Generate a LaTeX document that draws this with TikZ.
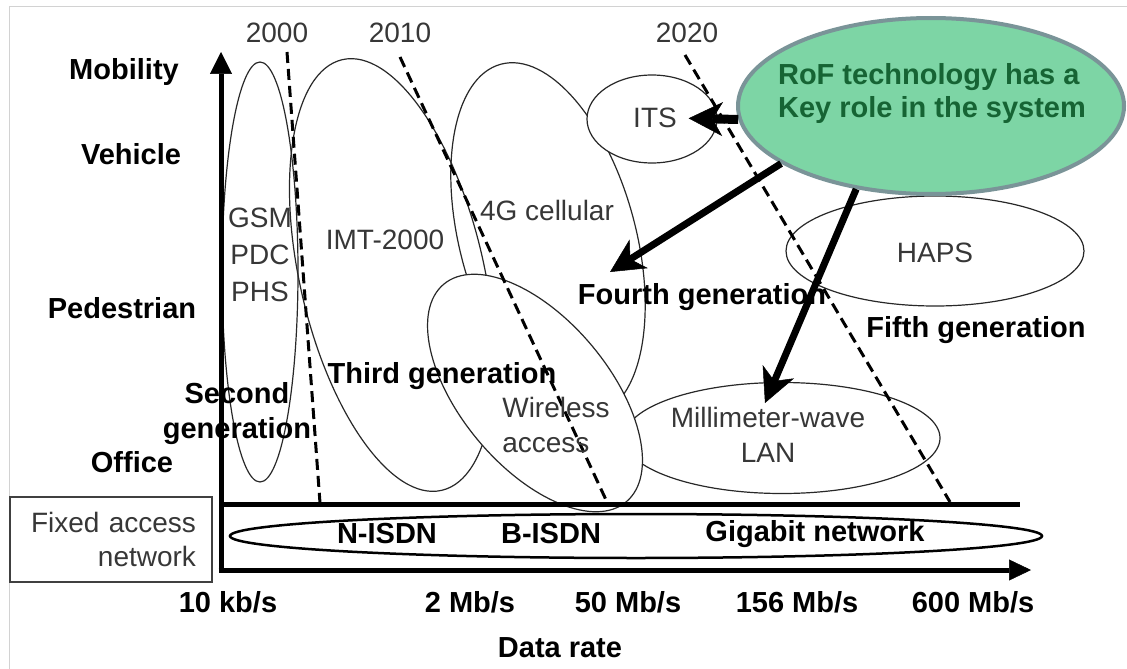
\documentclass[tikz,border=0pt]{standalone}
\usepackage{fontspec}
\setmainfont{Liberation Sans}
\usetikzlibrary{arrows.meta,shapes.geometric}
\definecolor{txtgray}{RGB}{55,55,55}
\definecolor{ellline}{RGB}{40,40,40}
\definecolor{rofFill}{RGB}{125,213,165}
\definecolor{rofLine}{RGB}{122,148,152}
\definecolor{rofText}{RGB}{22,100,52}
\definecolor{frameGray}{RGB}{210,210,210}
\begin{document}
\begin{tikzpicture}[x=1pt,y=-1pt,
  bold/.style={font=\fontsize{29}{35}\selectfont\bfseries, inner sep=0pt, align=center},
  thin/.style={font=\fontsize{28}{35}\selectfont, text=txtgray, inner sep=0pt, align=center},
  oval/.style={ellipse, draw=ellline, line width=1.2pt, inner sep=0pt},
  yearline/.style={line width=3pt, dash pattern=on 11pt off 6pt},
  axisline/.style={line width=5pt},
  bigarrow/.style={line width=7pt, -{Stealth[length=34pt,width=34pt,inset=10pt,line width=0.5pt]}}
]
\useasboundingbox (0,0) rectangle (1127,669);
\fill[white] (0,0) rectangle (1127,669);
\draw[frameGray, line width=1pt] (9,669) -- (9,7) -- (1127,7);

% technology ellipses
\node[oval, minimum width=76pt, minimum height=420pt] (gsm) at (260,272) {};
\node[oval, minimum width=184pt, minimum height=442pt, rotate=13] (imt) at (392,275) {};
\node[oval, minimum width=176pt, minimum height=364pt, rotate=15] (cell) at (548,240) {};
\node[oval, fill=white, minimum width=130pt, minimum height=88pt] (its) at (652,119) {};
\node[oval, fill=white, minimum width=298pt, minimum height=110pt] (haps) at (935,251) {};
\node[oval, minimum width=316pt, minimum height=111pt] (mmw) at (782,438) {};
\node[oval, fill=white, minimum width=148pt, minimum height=284pt, rotate=40] (wla) at (535,393) {};

% fixed access network
\node[ellipse, draw, line width=2.5pt, minimum width=812pt, minimum height=44pt, inner sep=0pt] (fixedell) at (636,536) {};
\node[draw=black!75, line width=1.5pt, text width=170pt, inner xsep=16pt, inner ysep=0pt, align=right,
      minimum height=85pt, font=\fontsize{28}{34}\selectfont, text=txtgray] (fixbox) at (111,539.5) {Fixed access\\network};

% axes
\coordinate (ybot) at (221,572.5);
\coordinate (ytip) at (221,52);
\coordinate (xbot) at (218.5,570);
\coordinate (xtip) at (1031,570);
\coordinate (hl) at (221,504);
\coordinate (hr) at (1020,504);
\draw[axisline, -{Triangle[length=22pt,width=22pt,line width=0.5pt]}] (ybot) -- (ytip);
\draw[axisline, -{Triangle[length=22pt,width=21pt,line width=0.5pt]}] (xbot) -- (xtip);
\draw[axisline] (hl) -- (hr);

% year lines
\coordinate (a0) at (287,52);  \coordinate (b0) at (320,503);
\coordinate (a1) at (400,57);  \coordinate (b1) at (607,502);
\coordinate (a2) at (685,55);  \coordinate (b2) at (950,502);
\draw[yearline] (a0) -- (b0);
\draw[yearline] (a1) -- (b1);
\draw[yearline] (a2) -- (b2);
\node[thin] (y2000) at (277,33) {2000};
\node[thin] (y2010) at (400,33) {2010};
\node[thin] (y2020) at (687,33) {2020};

% RoF callout
\node[ellipse, draw=rofLine, fill=rofFill, line width=4pt, minimum width=386pt, minimum height=176pt, inner sep=0pt] (rof) at (931,106) {};
\node[font=\fontsize{29}{33}\selectfont\bfseries, text=rofText, align=left, inner sep=0pt] (roftext) at (932,94) {RoF technology has a\\Key role in the system};

\coordinate (t4) at (610,272);
\coordinate (tmm) at (765,403);
\draw[bigarrow, line width=9pt, shorten >=-29pt] (rof.184) -- (its.east);
\draw[bigarrow] (rof.201) -- (t4);
\draw[bigarrow] (rof.228) -- (tmm);

% axis labels
\node[bold] (mob) at (124,72) {Mobility};
\node[bold] (veh) at (131,154) {Vehicle};
\node[bold] (ped) at (122,308) {Pedestrian};
\node[bold] (off) at (132,462) {Office};

% generation labels
\node[bold] (g2) at (237,414) {Second\\generation};
\node[bold] (g3) at (442,376) {Third generation};
\node[bold] (g4) at (702,297) {Fourth generation};
\node[bold] (g5) at (976,330) {Fifth generation};

% technology labels
\node[thin, font=\fontsize{28}{37}\selectfont] (gsmt) at (260,255) {GSM\\PDC\\PHS};
\node[thin] (imtt) at (385,240) {IMT-2000};
\node[thin] (cellt) at (547,210) {4G cellular};
\node[thin] (itst) at (655,118) {ITS};
\node[thin] (hapst) at (935,253) {HAPS};
\node[thin, align=left] (wlat) at (556,425) {Wireless\\access};
\node[thin] (mmwt) at (768,435) {Millimeter-wave\\LAN};

% fixed network labels
\node[bold] (nisdn) at (387,534) {N-ISDN};
\node[bold] (bisdn) at (551,534) {B-ISDN};
\node[bold] (giga) at (815,534) {Gigabit network};

% data rate labels
\node[bold] (r1) at (228,602) {10 kb/s};
\node[bold] (r2) at (470,602) {2 Mb/s};
\node[bold] (r3) at (628,602) {50 Mb/s};
\node[bold] (r4) at (797,602) {156 Mb/s};
\node[bold] (r5) at (973,602) {600 Mb/s};
\node[bold] (dr) at (560,648) {Data rate};
\end{tikzpicture}
\end{document}
